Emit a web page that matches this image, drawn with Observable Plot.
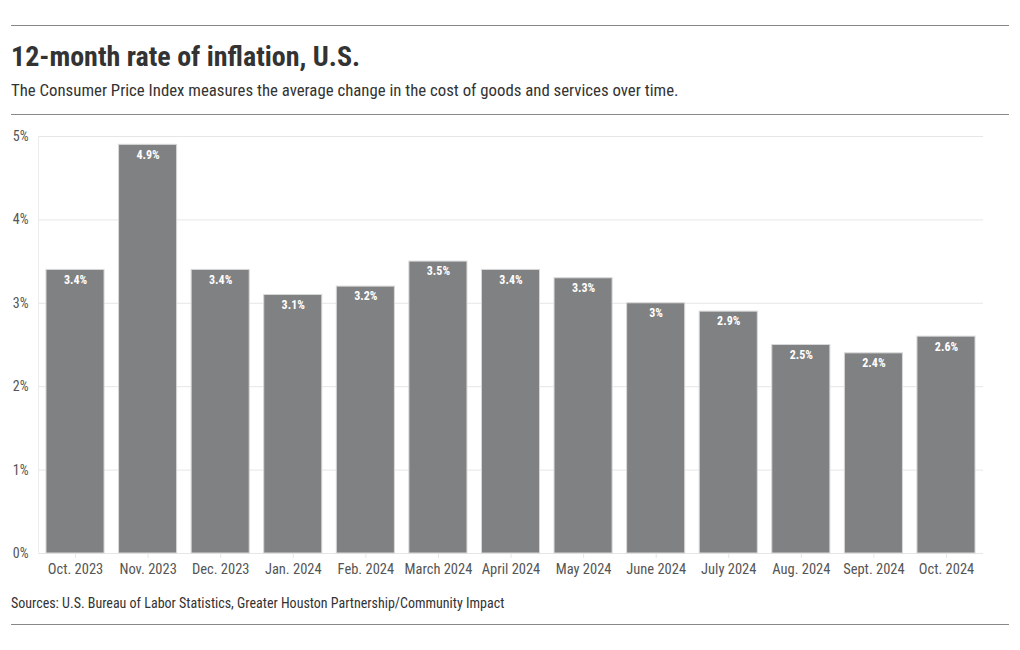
<!DOCTYPE html>
<html>
<head>
<meta charset="utf-8">
<script src="https://cdn.jsdelivr.net/npm/d3@7"></script>
<script src="https://cdn.jsdelivr.net/npm/@observablehq/plot@0.6"></script>
<style>
  html, body { margin: 0; padding: 0; background: #fff; }
  body { font-family: "Roboto Condensed", "Liberation Sans Narrow", "DejaVu Sans Condensed", Roboto, sans-serif; width: 1020px; height: 650px; }
  .rule { margin-left: 11px; width: 998px; height: 0; border-top: 1px solid #888; }
  #title { margin: 0 0 0 11px; height: 50px; padding-top: 15px; box-sizing: border-box; font-size: 28px; font-weight: bold; color: #333; line-height: 32px; white-space: nowrap; }
  #subtitle { margin-left: 11px; height: 38px; padding-top: 4px; box-sizing: border-box; font-size: 16.8px; color: #333; line-height: 20px; white-space: nowrap; }
  #chart { height: 463px; margin-top: 5px; }
  #chart svg { display: block; }
  #source { margin-left: 11px; height: 41px; padding-top: 11px; box-sizing: border-box; font-size: 14px; color: #333; line-height: 18px; white-space: nowrap; }
</style>
</head>
<body>
  <div style="height:25px"></div>
  <div class="rule"></div>
  <div id="title">12-month rate of inflation, U.S.</div>
  <div id="subtitle">The Consumer Price Index measures the average change in the cost of goods and services over time.</div>
  <div class="rule"></div>
  <div id="chart"></div>
  <div id="source">Sources: U.S. Bureau of Labor Statistics, Greater Houston Partnership/Community Impact</div>
  <div class="rule"></div>
<script>
const months = ["Oct. 2023", "Nov. 2023", "Dec. 2023", "Jan. 2024", "Feb. 2024", "March 2024", "April 2024", "May 2024", "June 2024", "July 2024", "Aug. 2024", "Sept. 2024", "Oct. 2024"];
const rates = [3.4, 4.9, 3.4, 3.1, 3.2, 3.5, 3.4, 3.3, 3.0, 2.9, 2.5, 2.4, 2.6];
const yTicks = [0, 1, 2, 3, 4, 5];

const data = months.map((m, i) => ({month: m, rate: rates[i]}));
const fontFam = '"Roboto Condensed", "Liberation Sans Narrow", "DejaVu Sans Condensed", Roboto, sans-serif';

const plot = Plot.plot({
  width: 1020,
  height: 463,
  marginTop: 16,
  marginBottom: 30,
  marginLeft: 38,
  marginRight: 37,
  style: {fontFamily: fontFam, fontSize: "14px", color: "#555", background: "transparent"},
  x: {domain: months, paddingInner: 0.2, paddingOuter: 0.11, round: false, label: null},
  y: {domain: [0, 5], label: null},
  marks: [
    Plot.gridY(yTicks, {stroke: "#e6e6e6", strokeOpacity: 1}),
    Plot.frame({anchor: "left", stroke: "#ececec"}),
    Plot.axisY(yTicks, {tickSize: 0, tickPadding: 10, tickFormat: d => d + "%", fontSize: 14, fill: "#555"}),
    Plot.axisX({tickSize: 5, stroke: "#e6e6e6", tickPadding: 5, fontSize: 14.5, fill: "#555"}),
    Plot.barY(data, {x: "month", y: "rate", fill: "#808183", stroke: "#d8d8d8", strokeWidth: 1}),
    Plot.text(data, {x: "month", y: "rate", text: d => d.rate + "%", dy: 10, fill: "#fff", fontWeight: "bold", fontSize: 12})
  ]
});
document.getElementById("chart").appendChild(plot);
</script>
</body>
</html>
